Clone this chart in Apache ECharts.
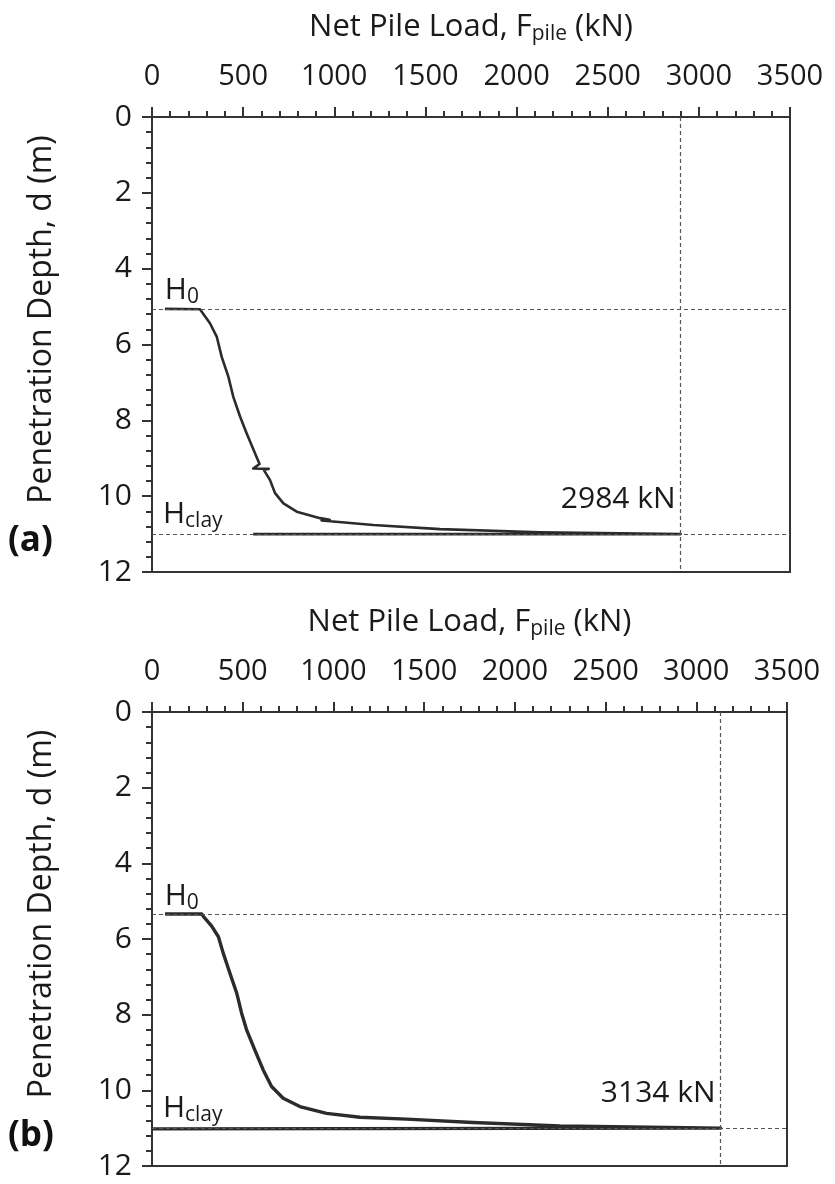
<!DOCTYPE html>
<html><head><meta charset="utf-8">
<script src="https://cdn.jsdelivr.net/npm/echarts@6/dist/echarts.min.js"></script>
<style>html,body{margin:0;padding:0;background:#fff}#c{width:835px;height:1184px}</style>
</head><body><div id="c"></div>
<script>
// ---- data ----
const panelLabels = ['(a)', '(b)'];
// Panel (a): net pile load (kN) vs penetration depth (m)
const loadA  = [71, 263, 318, 355, 382, 419, 446, 483, 519, 565, 590, 555, 640, 612, 647, 675, 721, 794, 922, 975, 930, 1214, 1580, 2128, 2900, 555];
const depthA = [5.06, 5.07, 5.44, 5.79, 6.32, 6.85, 7.38, 7.90, 8.34, 8.87, 9.15, 9.27, 9.28, 9.30, 9.57, 9.92, 10.19, 10.41, 10.58, 10.62, 10.64, 10.76, 10.87, 10.95, 11.0, 11.0];
const h0A = 5.06, hclayA = 11.0, peakLineA = 2900, peakLabelA = 2984;
// Panel (b)
const loadB  = [72, 274, 283, 329, 366, 393, 430, 467, 494, 522, 567, 613, 659, 723, 815, 962, 1146, 1403, 1770, 2248, 3134, 0];
const depthB = [5.34, 5.34, 5.40, 5.66, 5.94, 6.38, 6.91, 7.43, 7.96, 8.41, 8.94, 9.46, 9.90, 10.21, 10.43, 10.61, 10.71, 10.76, 10.85, 10.94, 11.0, 11.02];
const h0B = 5.34, hclayB = 11.0, peakLineB = 3134, peakLabelB = 3134;

const F = 'Open Sans';
const ink = '#1a1a1a';
const axisCol = '#333';

function pairs(xs, ys){ return xs.map((x,i)=>[x, ys[i]]); }

const grids = [
  {left:152, top:117, width:638, height:455},
  {left:152, top:712, width:635, height:454}
];

function xAxisFor(i){
  return {
    gridIndex:i, type:'value', position:'top', min:0, max:3500, interval:500,
    name:'{a|Net Pile Load, F}{s|pile}{a| (kN)}', nameLocation:'middle', nameGap:72,
    nameTextStyle:{rich:{
      a:{fontFamily:F, fontSize:31, color:ink, lineHeight:36},
      s:{fontFamily:F, fontSize:21, color:ink, verticalAlign:'bottom', lineHeight:6}
    }},
    axisLine:{show:true, onZero:false, lineStyle:{color:axisCol, width:2}},
    axisTick:{show:true, inside:false, length:10, lineStyle:{color:axisCol, width:2}},
    minorTick:{show:true, splitNumber:5, length:6, lineStyle:{color:axisCol, width:2}},
    axisLabel:{fontFamily:F, fontSize:29, color:ink, margin:26, formatter:v=>String(v)},
    splitLine:{show:false}
  };
}
function yAxisFor(i){
  return {
    gridIndex:i, type:'value', inverse:true, min:0, max:12, interval:2,
    name:'Penetration Depth, d (m)', nameLocation:'middle', nameGap:94,
    nameTextStyle:{fontFamily:F, fontSize:32, color:ink, padding:[0,0,0,50]},
    axisLine:{show:true, onZero:false, lineStyle:{color:axisCol, width:2}},
    axisTick:{show:true, inside:false, length:10, lineStyle:{color:axisCol, width:2}},
    minorTick:{show:true, splitNumber:5, length:6, lineStyle:{color:axisCol, width:2}},
    axisLabel:{fontFamily:F, fontSize:30, color:ink, margin:20},
    splitLine:{show:false}
  };
}

function seriesFor(i, xs, ys, h0, hclay, peakLine, peakLabel, w){
  const dash = {color:'#555', width:1.2, type:[4,3]};
  const sub = {h:{fontFamily:F,fontSize:30,color:ink,lineHeight:34}, s:{fontFamily:F,fontSize:21,color:ink,verticalAlign:'bottom',lineHeight:10}};
  return {
    type:'line', xAxisIndex:i, yAxisIndex:i, data:pairs(xs, ys),
    showSymbol:false, symbol:'none', animation:false,
    lineStyle:{color:'#2b2b2b', width:w, join:'round'},
    markLine:{
      silent:true, symbol:['none','none'], animation:false,
      label:{show:false}, lineStyle:dash,
      data:[{yAxis:h0},{yAxis:hclay},{xAxis:peakLine}]
    },
    markPoint:{
      silent:true, animation:false, symbol:'circle', symbolSize:0,
      data:[
        {coord:[70, h0], label:{show:true, position:[0,0], align:'left', verticalAlign:'bottom', offset:[0,-1],
          formatter:'{h|H}{s|0}', rich:sub}},
        {coord:[60, hclay], label:{show:true, position:[0,0], align:'left', verticalAlign:'bottom', offset:[0,-3],
          formatter:'{h|H}{s|clay}', rich:sub}},
        {coord:[peakLine, hclay], label:{show:true, position:[0,0], align:'right', verticalAlign:'bottom', offset:[-5,-20],
          formatter: peakLabel + ' kN', fontFamily:F, fontSize:30, color:ink}}
      ]
    }
  };
}

const chart = echarts.init(document.getElementById('c'), null, {renderer:'canvas'});
chart.setOption({
  backgroundColor:'#fff',
  animation:false,
  grid: grids.map(g=>Object.assign({show:true, borderColor:axisCol, borderWidth:2, backgroundColor:'transparent'}, g)),
  xAxis:[xAxisFor(0), xAxisFor(1)],
  yAxis:[yAxisFor(0), yAxisFor(1)],
  series:[
    seriesFor(0, loadA, depthA, h0A, hclayA, peakLineA, peakLabelA, 2.6),
    seriesFor(1, loadB, depthB, h0B, hclayB, peakLineB, peakLabelB, 3.4)
  ],
  graphic:[
    {type:'text', left:8, top:524, style:{text:panelLabels[0], font:'bold 35px "Open Sans"', fill:'#111'}},
    {type:'text', left:8, top:1119, style:{text:panelLabels[1], font:'bold 35px "Open Sans"', fill:'#111'}}
  ]
});
</script>
</body></html>
